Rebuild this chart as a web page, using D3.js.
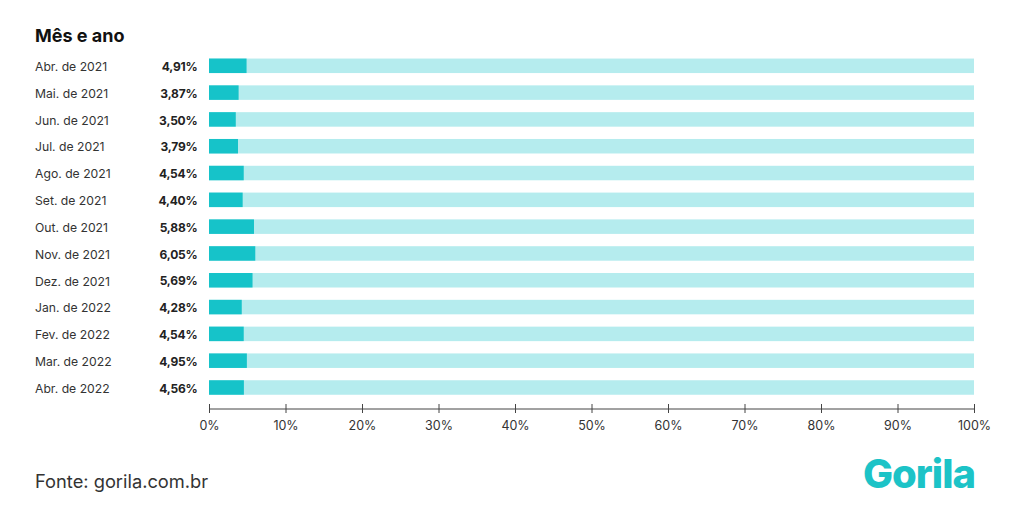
<!DOCTYPE html>
<html>
<head>
<meta charset="utf-8">
<script src="https://cdn.jsdelivr.net/npm/d3@7"></script>
<style>
  body { margin: 0; background: #fff; }
  svg { font-family: Inter, "Noto Sans", sans-serif; }
</style>
</head>
<body>
<div id="chart"></div>
<script>
// data
var months = ["Abr. de 2021", "Mai. de 2021", "Jun. de 2021", "Jul. de 2021", "Ago. de 2021",
  "Set. de 2021", "Out. de 2021", "Nov. de 2021", "Dez. de 2021", "Jan. de 2022",
  "Fev. de 2022", "Mar. de 2022", "Abr. de 2022"];
var values = [4.91, 3.87, 3.50, 3.79, 4.54, 4.40, 5.88, 6.05, 5.69, 4.28, 4.54, 4.95, 4.56];
var tickValues = [0, 10, 20, 30, 40, 50, 60, 70, 80, 90, 100];

var width = 1024, height = 516;

var svg = d3.select("#chart")
  .append("svg")
    .attr("width", width)
    .attr("height", height);

// scales
var x = d3.scaleLinear()
  .domain([0, 100])
  .range([209, 974]);

var y = d3.scalePoint()
  .domain(months)
  .range([65.8, 387.5]);

var barH = 14.5;

// title
svg.append("text")
  .attr("x", 35)
  .attr("y", 42)
  .attr("font-size", 18)
  .attr("font-weight", 700)
  .attr("fill", "#111")
  .text("Mês e ano");

// background bars (100%)
svg.selectAll(".bg")
  .data(months)
  .enter().append("rect")
    .attr("x", x(0))
    .attr("y", function(d) { return y(d) - barH / 2; })
    .attr("width", x(100) - x(0))
    .attr("height", barH)
    .attr("fill", "#b5ecee");

// value bars
svg.selectAll(".bar")
  .data(values)
  .enter().append("rect")
    .attr("x", x(0))
    .attr("y", function(d, i) { return y(months[i]) - barH / 2; })
    .attr("width", function(d) { return x(d) - x(0); })
    .attr("height", barH)
    .attr("fill", "#16c3c9");

// category labels
svg.selectAll(".cat")
  .data(months)
  .enter().append("text")
    .attr("x", 35)
    .attr("y", function(d) { return y(d) + 1; })
    .attr("dy", "0.35em")
    .attr("font-size", 12.2)
    .attr("fill", "#333")
    .text(function(d) { return d; });

// value labels
svg.selectAll(".val")
  .data(values)
  .enter().append("text")
    .attr("x", 197.5)
    .attr("y", function(d, i) { return y(months[i]) + 1; })
    .attr("dy", "0.35em")
    .attr("text-anchor", "end")
    .attr("font-size", 12)
    .attr("font-weight", 700)
    .attr("letter-spacing", -0.2)
    .attr("fill", "#222")
    .text(function(d) { return d.toFixed(2).replace(".", ",") + "%"; });

// x axis
var axis = svg.append("g")
  .attr("transform", "translate(0,408.5)")
  .call(d3.axisBottom(x)
    .tickValues(tickValues)
    .tickSize(4.5)
    .tickSizeOuter(0)
    .tickFormat(function(d) { return d + "%"; }));

axis.select(".domain").attr("stroke", "#444");
axis.selectAll(".tick line")
  .attr("stroke", "#444")
  .attr("y1", -4.5);
axis.selectAll(".tick text")
  .attr("y", 13)
  .attr("font-family", "Inter, sans-serif")
  .attr("font-size", 12.5)
  .attr("fill", "#333");

// source
svg.append("text")
  .attr("x", 35)
  .attr("y", 488)
  .attr("font-size", 18.3)
  .attr("fill", "#333")
  .text("Fonte: gorila.com.br");

// logo
svg.append("text")
  .attr("x", 975)
  .attr("y", 488)
  .attr("text-anchor", "end")
  .attr("font-size", 40)
  .attr("font-weight", 800)
  .attr("letter-spacing", -1)
  .attr("fill", "#1cc3c7")
  .text("Gorila");
</script>
</body>
</html>
